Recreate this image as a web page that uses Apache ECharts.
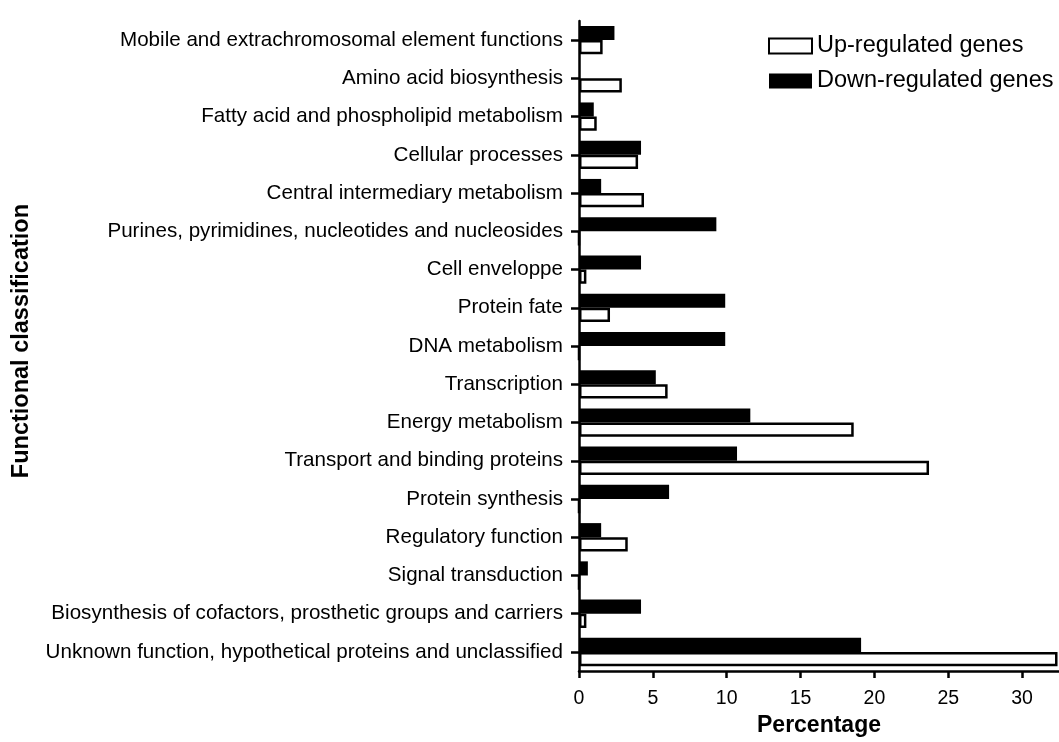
<!DOCTYPE html>
<html><head><meta charset="utf-8">
<script src="https://cdn.jsdelivr.net/npm/echarts@6/dist/echarts.min.js"></script>
<style>html,body{margin:0;padding:0;background:#fff}#c{width:1059px;height:742px}</style>
</head><body><div id="c"></div>
<script>
const categories = [
  'Mobile and extrachromosomal element functions',
  'Amino acid biosynthesis',
  'Fatty acid and phospholipid metabolism',
  'Cellular processes',
  'Central intermediary metabolism',
  'Purines, pyrimidines, nucleotides and nucleosides',
  'Cell enveloppe',
  'Protein fate',
  'DNA metabolism',
  'Transcription',
  'Energy metabolism',
  'Transport and binding proteins',
  'Protein synthesis',
  'Regulatory function',
  'Signal transduction',
  'Biosynthesis of cofactors, prosthetic groups and carriers',
  'Unknown function, hypothetical proteins and unclassified'
];
const upRegulated = [1.6, 2.9, 1.2, 4.0, 4.4, 0, 0.5, 2.1, 0, 6.0, 18.6, 23.7, 0, 3.3, 0, 0.5, 32.4];
const downRegulated = [2.4, 0, 1.0, 4.2, 1.5, 9.3, 4.2, 9.9, 9.9, 5.2, 11.6, 10.7, 6.1, 1.5, 0.6, 4.2, 19.1];
const xTicks = [0, 5, 10, 15, 20, 25, 30];

const FONT = 'Liberation Sans';
const chart = echarts.init(document.getElementById('c'));
chart.setOption({
  backgroundColor: '#fff',
  animation: false,
  textStyle: { fontFamily: FONT, color: '#000' },
  legend: {
    data: ['Up-regulated genes', 'Down-regulated genes'],
    orient: 'vertical',
    left: 763, top: 29,
    itemWidth: 43, itemHeight: 15, itemGap: 11, itemTextGap: 3,
    icon: 'rect',
    textStyle: { fontFamily: FONT, fontSize: 23.5, color: '#000' }
  },
  grid: { left: 579, top: 21, width: 480, height: 654, containLabel: false },
  xAxis: {
    type: 'value', min: 0, max: 32.5, interval: 5,
    name: 'Percentage', nameLocation: 'middle', nameGap: 42,
    nameTextStyle: { fontFamily: FONT, fontSize: 23, fontWeight: 'bold', color: '#000' },
    axisLine: { show: true, lineStyle: { color: '#000', width: 2.5 } },
    axisTick: { show: true, length: 7, customValues: xTicks, lineStyle: { color: '#000', width: 2.5 } },
    axisLabel: { fontFamily: FONT, fontSize: 19.5, color: '#000', margin: 18, customValues: xTicks },
    splitLine: { show: false }
  },
  yAxis: {
    type: 'category', data: categories, inverse: true,
    name: 'Functional classification', nameLocation: 'middle', nameGap: 545, nameRotate: 90,
    nameTextStyle: { fontFamily: FONT, fontSize: 23.5, fontWeight: 'bold', color: '#000', padding: [0, 0, 0, 10] },
    axisLine: { show: true, lineStyle: { color: '#000', width: 2.5 } },
    axisTick: { show: true, alignWithLabel: true, length: 8, lineStyle: { color: '#000', width: 2.5 } },
    axisLabel: { fontFamily: FONT, fontSize: 20.6, color: '#000', margin: 16 }
  },
  series: [
    { name: 'Down-regulated genes', type: 'bar', data: downRegulated,
      barGap: '0%', barCategoryGap: '26%',
      itemStyle: { color: '#000', borderColor: '#000', borderWidth: 0 } },
    { name: 'Up-regulated genes', type: 'bar', data: upRegulated,
      barGap: '0%', barCategoryGap: '26%',
      itemStyle: { color: '#fff', borderColor: '#000', borderWidth: 2.5 } }
  ]
});
</script></body></html>
